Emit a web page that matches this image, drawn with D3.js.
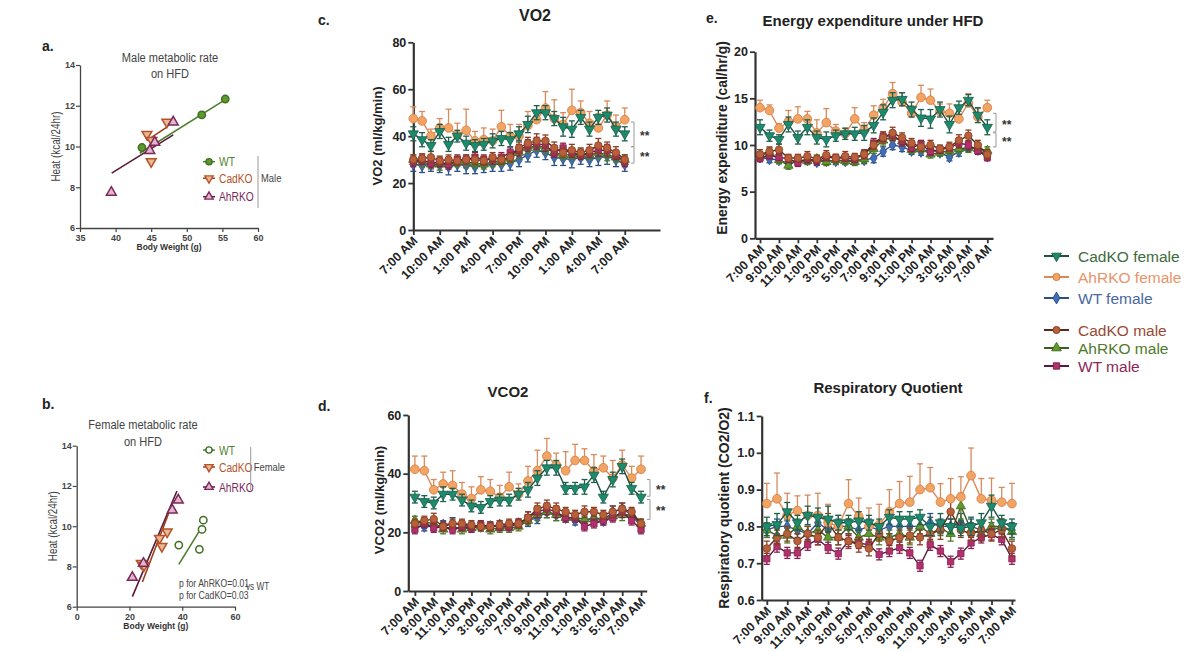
<!DOCTYPE html>
<html>
<head>
<meta charset="utf-8">
<script src="https://cdn.jsdelivr.net/npm/d3@7"></script>
<style>
body{margin:0;background:#fff;}
svg{display:block;font-family:"Liberation Sans",Arial,sans-serif;}
</style>
</head>
<body>
<script>
// ---- scatter data (body weight g, heat kcal/24hr) ----
var maleWT = [[43.7, 9.95], [52.1, 11.55], [55.4, 12.33]];
var maleCad = [[44.4, 10.6], [45.1, 10.3], [45.0, 9.26], [47.2, 11.2]];
var maleAhr = [[39.4, 7.75], [44.8, 9.8], [45.5, 10.2], [48.1, 11.2]];
var maleFitWT = [[43.4, 9.67], [55.4, 12.3]];
var maleFitCad = [[44.4, 10.3], [47.2, 10.95]];
var maleFitAhr = [[39.45, 8.69], [48.1, 10.57]];

var femWT = [[38.7, 9.06], [46.5, 8.85], [47.5, 9.84], [48.0, 10.3]];
var femCad = [[24.5, 8.15], [25.5, 8.05], [31.4, 9.4], [32.3, 9.0], [34.3, 9.72]];
var femAhr = [[21.1, 7.45], [25.3, 8.15], [36.2, 10.8], [38.5, 11.3]];
var femFitWT = [[38.7, 8.1], [46.3, 9.72]];
var femFitCad = [[24.9, 7.23], [35.8, 10.97]];
var femFitAhr = [[21.1, 6.5], [38.0, 11.75]];

// ---- time labels ----
var ticks3h = ["7:00 AM", "10:00 AM", "1:00 PM", "4:00 PM", "7:00 PM", "10:00 PM", "1:00 AM", "4:00 AM", "7:00 AM"];
var ticks2h = ["7:00 AM", "9:00 AM", "11:00 AM", "1:00 PM", "3:00 PM", "5:00 PM", "7:00 PM", "9:00 PM", "11:00 PM", "1:00 AM", "3:00 AM", "5:00 AM", "7:00 AM"];

// ---- VO2 (ml/kg/min), hourly ----
var vo2CadF = [41, 38.5, 36, 42, 36.5, 40, 37, 36, 36.5, 38, 39, 38.5, 41, 45, 50, 50, 47.5, 44, 43, 48, 43, 48, 49, 43, 41];
var vo2AhrF = [47.5, 46.5, 40, 43.5, 43.5, 40.5, 42.5, 38, 38.5, 38, 44, 40, 40, 44.5, 47, 52, 47.5, 45, 51, 50, 45.5, 43.5, 49, 44, 47];
var vo2WtF = [28, 27.5, 28, 27.5, 27, 28, 27.5, 27, 27.5, 28, 28, 28.5, 30, 32, 34, 33, 31, 30.5, 30, 31, 30, 31, 31.5, 30, 28];
var vo2CadM = [30, 30.5, 31, 29.5, 30, 29.5, 30, 30, 29.5, 31, 30, 31, 35, 37, 38, 38, 35, 33, 34, 33, 34, 36, 35, 33, 30];
var vo2AhrM = [30, 29, 28, 28, 28, 29, 29, 28.5, 28, 29, 29.5, 30.5, 33, 35, 36, 35, 33, 32, 32, 32.5, 32, 33, 32, 31, 30];
var vo2WtM = [29, 30, 28.5, 29, 28, 30, 30, 31, 30, 30, 31, 33, 34, 36, 37, 36, 33, 35, 33, 32, 33, 34, 34, 32, 29];
var vo2CadFErr = [3, 3, 2.5, 3, 3, 2.5, 3, 2.5, 2.5, 3, 3, 3, 3, 3.5, 3, 3, 3, 4, 3.5, 3, 3, 3, 3, 3, 3];
var vo2AhrFErr = [5, 4, 3, 4, 8, 5, 9, 4, 5, 5, 7, 5, 5, 6, 4, 7, 8, 5, 9, 5, 5, 6, 6, 5, 5];
var vo2WtFErr = [3, 3, 3, 3, 3.5, 3, 3.5, 3, 3, 3, 3, 3, 3, 3, 3, 3, 3.5, 3, 3.5, 3, 3, 3.5, 3.5, 3, 3];
var vo2CadMErr = [2, 2, 2.5, 2, 2, 2, 2, 2, 2, 2, 2, 2, 2.5, 2.5, 3, 2.5, 2.5, 2, 2.5, 2, 2.5, 3, 2.5, 2.5, 2];
var vo2AhrMErr = [2, 2, 2, 2.5, 2, 2, 2.5, 2, 2, 2, 2, 2, 2.5, 2.5, 2.5, 2.5, 2, 2, 2, 2, 2, 2.5, 2.5, 2, 2];
var vo2WtMErr = [2, 2, 2, 2, 2, 2, 2, 2, 2, 2, 2, 2, 2.5, 2.5, 2.5, 2.5, 2, 2, 2, 2, 2, 2.5, 2.5, 2, 2];

// ---- VCO2 (ml/kg/min), hourly ----
var vco2CadF = [32, 30.5, 30, 33, 33, 31, 29, 28.5, 30.5, 31, 31, 33, 34.5, 38.5, 42, 42, 35, 35, 35.5, 39.5, 32, 38, 42.5, 35, 32];
var vco2AhrF = [41.5, 41, 34.5, 36.5, 36, 33, 31.5, 34.5, 34, 32, 35.5, 33, 37.5, 41, 46, 43, 41, 44.5, 44.5, 41, 42, 38.5, 43, 38.5, 41.5];
var vco2WtF = [22, 22, 22, 22.5, 23, 22.5, 22, 22, 22, 22.5, 22.5, 23, 24, 25, 27, 26, 25, 24, 24, 25, 24, 27, 28, 26, 22];
var vco2CadM = [23, 24, 24.5, 22, 23, 23, 22.5, 22, 22, 22.5, 23, 23, 25, 28, 29, 28, 27, 26, 27, 27, 26, 27, 28, 27, 23];
var vco2AhrM = [24, 23.5, 23, 21, 22, 21, 21.5, 22, 21, 21.5, 21.5, 22, 24, 26, 27, 26, 25, 25, 24.5, 24.5, 25, 25.5, 26, 26, 23];
var vco2WtM = [21, 23, 21.5, 22, 21, 22, 21.5, 22.5, 22, 22, 22, 23, 25, 27, 28, 27, 25, 25, 22, 23, 24, 25, 27, 24, 21];
var vco2CadFErr = [2, 2, 2, 2.5, 2, 2, 2, 2, 2, 2, 2, 2, 2.5, 2.5, 2.5, 2.5, 2, 2, 2.5, 2.5, 2, 2.5, 2.5, 2, 2];
var vco2AhrFErr = [4.5, 5, 3.5, 4, 5, 4, 4, 4.5, 4, 4, 5, 3.5, 5, 7, 6, 4, 6.5, 5.5, 4, 5.5, 4, 6, 5, 4, 4.5];
var vco2WtFErr = [1.5, 1.5, 1.5, 1.5, 2, 1.5, 1.5, 1.5, 1.5, 1.5, 1.5, 1.5, 2, 2, 2, 2, 1.5, 1.5, 1.5, 1.5, 1.5, 2, 2, 1.5, 1.5];
var vco2CadMErr = [1.5, 1.5, 2, 1.5, 1.5, 1.5, 1.5, 1.5, 1.5, 1.5, 1.5, 1.5, 2, 2, 2, 2, 1.5, 1.5, 2, 1.5, 1.5, 2, 2, 1.5, 1.5];
var vco2AhrMErr = [1.5, 1.5, 1.5, 1.5, 1.5, 1.5, 1.5, 1.5, 1.5, 1.5, 1.5, 1.5, 1.5, 2, 2, 2, 1.5, 1.5, 1.5, 1.5, 1.5, 1.5, 2, 2, 1.5];
var vco2WtMErr = [1.5, 1.5, 1.5, 1.5, 1.5, 1.5, 1.5, 1.5, 1.5, 1.5, 1.5, 1.5, 2, 2, 2, 2, 1.5, 1.5, 1.5, 1.5, 1.5, 1.5, 2, 1.5, 1.5];

// ---- Energy expenditure (cal/hr/g), hourly ----
var eeCadF = [11.9, 11, 10.6, 12.2, 10.8, 11.9, 10.8, 10.6, 11, 11.2, 11.2, 11.3, 12.1, 13.5, 14.8, 14.9, 13.8, 12.9, 12.8, 13.8, 12.2, 14, 14.8, 13.2, 11.9];
var eeAhrF = [14, 13.7, 11.8, 12.5, 12.8, 12.8, 11.3, 12.4, 11.5, 11.2, 12.8, 11.6, 13.2, 14, 15.5, 14.6, 13.4, 15.1, 14.8, 13.6, 13.4, 12.8, 14.5, 13, 14];
var eeWtF = [8.7, 8.5, 8.4, 8, 8.3, 8.4, 8.2, 8.3, 8.3, 8.3, 8.4, 8.4, 8.6, 9.3, 10, 9.8, 9.4, 9.3, 9.5, 9.2, 8.7, 9.3, 9.8, 9.5, 8.8];
var eeCadM = [9, 9.3, 9.5, 8.6, 8.6, 8.8, 8.5, 8.9, 8.6, 8.8, 8.7, 9, 10, 10.8, 11.3, 10.8, 10.2, 9.8, 10, 9.6, 9.8, 10.5, 11, 10, 9];
var eeAhrM = [8.8, 9.2, 8.4, 7.8, 8.4, 8.3, 8.5, 8.2, 8.4, 8.3, 8.2, 8.5, 9.6, 10.5, 10.9, 10.4, 9.5, 9.6, 9, 9.2, 9.4, 9.6, 9.7, 9.6, 9.4];
var eeWtM = [8.6, 8.9, 8.7, 8.5, 8.1, 8.5, 8.3, 8.7, 8.6, 8.6, 8.5, 9, 10.2, 10.9, 11, 10.4, 9.7, 10.1, 9.3, 9.5, 9.7, 10.2, 10, 9.4, 8.7];
var eeCadFErr = [0.8, 0.6, 0.5, 0.8, 0.7, 0.8, 0.7, 0.8, 0.6, 0.6, 0.7, 0.8, 0.8, 0.8, 0.8, 0.7, 0.8, 0.9, 1.0, 0.8, 0.9, 0.7, 0.6, 0.8, 0.8];
var eeAhrFErr = [0.8, 0.6, 0.5, 1.2, 1.3, 0.8, 1.4, 1.5, 0.7, 0.6, 1.2, 0.8, 1.0, 0.9, 1.2, 1.0, 0.8, 1.3, 1.2, 0.8, 1.0, 0.8, 1.0, 0.9, 0.8];
var eeWtFErr = [0.4, 0.4, 0.4, 0.4, 0.5, 0.4, 0.4, 0.4, 0.4, 0.4, 0.4, 0.4, 0.5, 0.5, 0.5, 0.5, 0.4, 0.4, 0.5, 0.4, 0.4, 0.5, 0.5, 0.4, 0.4];
var eeCadMErr = [0.5, 0.5, 0.6, 0.4, 0.4, 0.5, 0.4, 0.5, 0.4, 0.5, 0.4, 0.5, 0.5, 0.6, 0.6, 0.5, 0.5, 0.5, 0.5, 0.4, 0.5, 0.6, 0.6, 0.5, 0.5];
var eeAhrMErr = [0.5, 0.5, 0.4, 0.4, 0.4, 0.4, 0.4, 0.4, 0.4, 0.4, 0.4, 0.4, 0.5, 0.5, 0.5, 0.5, 0.4, 0.4, 0.4, 0.4, 0.4, 0.5, 0.5, 0.5, 0.4];
var eeWtMErr = [0.4, 0.4, 0.4, 0.4, 0.4, 0.4, 0.4, 0.4, 0.4, 0.4, 0.4, 0.4, 0.5, 0.5, 0.5, 0.5, 0.4, 0.4, 0.4, 0.4, 0.4, 0.5, 0.5, 0.4, 0.4];

// ---- Respiratory quotient, hourly ----
var rqCadF = [0.8, 0.805, 0.84, 0.81, 0.83, 0.825, 0.82, 0.81, 0.81, 0.815, 0.81, 0.8, 0.825, 0.82, 0.82, 0.825, 0.8, 0.81, 0.8, 0.795, 0.8, 0.81, 0.855, 0.81, 0.8];
var rqAhrF = [0.862, 0.875, 0.83, 0.843, 0.83, 0.83, 0.81, 0.8, 0.862, 0.827, 0.8, 0.805, 0.84, 0.862, 0.866, 0.9, 0.905, 0.866, 0.875, 0.88, 0.938, 0.875, 0.871, 0.866, 0.862];
var rqWtF = [0.79, 0.8, 0.8, 0.79, 0.78, 0.81, 0.79, 0.8, 0.8, 0.79, 0.8, 0.79, 0.8, 0.8, 0.8, 0.8, 0.81, 0.8, 0.8, 0.81, 0.8, 0.79, 0.79, 0.8, 0.79];
var rqCadM = [0.74, 0.77, 0.78, 0.76, 0.78, 0.77, 0.81, 0.77, 0.76, 0.75, 0.74, 0.78, 0.76, 0.77, 0.775, 0.77, 0.78, 0.79, 0.84, 0.79, 0.78, 0.79, 0.78, 0.79, 0.74];
var rqAhrM = [0.79, 0.775, 0.775, 0.8, 0.78, 0.79, 0.77, 0.77, 0.8, 0.77, 0.78, 0.77, 0.77, 0.78, 0.77, 0.8, 0.78, 0.795, 0.78, 0.855, 0.79, 0.78, 0.8, 0.8, 0.785];
var rqWtM = [0.712, 0.745, 0.728, 0.728, 0.75, 0.765, 0.742, 0.726, 0.76, 0.755, 0.75, 0.724, 0.733, 0.742, 0.728, 0.693, 0.75, 0.733, 0.704, 0.726, 0.755, 0.77, 0.778, 0.765, 0.712];
var rqCadFErr = [0.025, 0.03, 0.025, 0.02, 0.025, 0.025, 0.035, 0.02, 0.02, 0.025, 0.02, 0.02, 0.02, 0.02, 0.02, 0.02, 0.025, 0.025, 0.02, 0.02, 0.025, 0.025, 0.03, 0.02, 0.02];
var rqAhrFErr = [0.055, 0.07, 0.06, 0.04, 0.055, 0.06, 0.05, 0.03, 0.065, 0.05, 0.05, 0.055, 0.06, 0.06, 0.07, 0.07, 0.055, 0.05, 0.055, 0.055, 0.075, 0.055, 0.06, 0.04, 0.055];
var rqWtFErr = [0.02, 0.02, 0.02, 0.02, 0.02, 0.02, 0.02, 0.02, 0.02, 0.02, 0.02, 0.02, 0.02, 0.02, 0.02, 0.02, 0.025, 0.02, 0.02, 0.025, 0.02, 0.02, 0.02, 0.02, 0.02];
var rqCadMErr = [0.02, 0.02, 0.02, 0.02, 0.02, 0.02, 0.025, 0.02, 0.02, 0.02, 0.02, 0.02, 0.02, 0.02, 0.02, 0.02, 0.02, 0.025, 0.04, 0.02, 0.02, 0.02, 0.02, 0.02, 0.02];
var rqAhrMErr = [0.02, 0.02, 0.02, 0.02, 0.02, 0.02, 0.02, 0.02, 0.02, 0.02, 0.02, 0.02, 0.02, 0.02, 0.02, 0.02, 0.02, 0.02, 0.02, 0.035, 0.02, 0.02, 0.02, 0.02, 0.02];
var rqWtMErr = [0.015, 0.015, 0.015, 0.015, 0.015, 0.015, 0.015, 0.015, 0.015, 0.015, 0.015, 0.015, 0.015, 0.015, 0.015, 0.015, 0.015, 0.015, 0.015, 0.015, 0.015, 0.015, 0.015, 0.015, 0.015];

// ---- legend labels ----
var legendNames = ["CadKO female", "AhRKO female", "WT female", "CadKO male", "AhRKO male", "WT male"];

var W = 1188, H = 652;
var svg = d3.select("body").append("svg").attr("width", W).attr("height", H);
svg.append("rect").attr("width", W).attr("height", H).attr("fill", "#fff");

// styles for the six groups (draw order: back to front)
var styles = {
	wtF:  {fill: "#3f6fb8", stroke: "#2d4f86", line: "#2d4f86", err: "#2d4f86", shape: "diamond", size: 40, text: "#4a68a0"},
	ahrM: {fill: "#5f9a2e", stroke: "#3f6a1c", line: "#3f5a20", err: "#4f7a25", shape: "triangle", size: 38, text: "#4f7a2a"},
	wtM:  {fill: "#b3306f", stroke: "#8a1f52", line: "#5a1a3a", err: "#8a1f52", shape: "square", size: 40, text: "#8a2858"},
	cadM: {fill: "#b8603c", stroke: "#8a3f22", line: "#5a2a18", err: "#8a3f22", shape: "circle", size: 45, text: "#9a4a35"},
	ahrF: {fill: "#f2a463", stroke: "#d67a45", line: "#d98a5c", err: "#d98a5c", shape: "circle", size: 60, text: "#e8946a"},
	cadF: {fill: "#1e8a6c", stroke: "#17604b", line: "#1f4f40", err: "#1f5f4a", shape: "tridown", size: 45, text: "#3e6b3c"}
};
var drawOrder = ["wtF", "ahrM", "wtM", "cadM", "ahrF", "cadF"];
var legendKeys = ["cadF", "ahrF", "wtF", "cadM", "ahrM", "wtM"];

var symbolTypes = {circle: d3.symbolCircle, square: d3.symbolSquare, diamond: d3.symbolDiamond, triangle: d3.symbolTriangle, tridown: d3.symbolTriangle};
function symbolPath(shape, size) {
	return d3.symbol().type(symbolTypes[shape]).size(size)();
}
function symbolTransform(shape, x, y) {
	return "translate(" + x + "," + y + ")" + (shape == "tridown" ? " rotate(180)" : "");
}
// condensed text (the a/b panels use a narrow face); squeeze horizontally
function narrowText(g, str, x, y, size, color, anchor, rot) {
	return g.append("text").text(str)
		.attr("transform", "translate(" + x + "," + y + ")" + (rot ? " rotate(" + rot + ")" : "") + " scale(0.82,1)")
		.attr("text-anchor", anchor || "start")
		.attr("font-size", size + "px").attr("fill", color);
}

// ---------------- time series panels ----------------
var drawTimePanel = function(p) {
	var g = svg.append("g");
	var x = d3.scaleLinear().domain(p.hDomain).range([p.left, p.right]);
	var y = d3.scaleLinear().domain(p.yDomain).range([p.bottom, p.top]);

	var yAxis = d3.axisLeft(y).tickValues(p.yTicks).tickSize(5).tickSizeOuter(0).tickFormat(p.yFmt);
	var gy = g.append("g").attr("transform", "translate(" + p.left + ",0)").call(yAxis);
	var tickHours = p.xLabels.map(function(d, i){return i * p.step;});
	var xAxis = d3.axisBottom(x).tickValues(tickHours).tickSize(5).tickSizeOuter(0)
		.tickFormat(function(d, i){return p.xLabels[i];});
	var gx = g.append("g").attr("transform", "translate(0," + p.bottom + ")").call(xAxis);
	[gx, gy].forEach(function(a){
		a.select(".domain").attr("stroke", "#333").attr("stroke-width", 2.2);
		a.selectAll(".tick line").attr("stroke", "#333").attr("stroke-width", 1.8);
		a.selectAll("text").attr("font-size", "12.5px").attr("font-weight", "bold").attr("fill", "#222")
			.attr("font-family", "'Liberation Sans', Arial, sans-serif");
	});
	gy.selectAll("text").attr("x", -7);
	gx.selectAll("text")
		.attr("text-anchor", "end")
		.attr("x", -5).attr("y", 7).attr("dy", "0.35em")
		.attr("transform", "rotate(-45)");

	// series
	drawOrder.forEach(function(k){
		var st = styles[k];
		var vals = p.values[k], errs = p.errors[k];
		var bars = g.append("g");
		vals.forEach(function(v, i){
			var up = y(v + errs[i]);
			var dn = (k == "ahrF") ? y(v) : y(v - errs[i]);
			bars.append("line").attr("x1", x(i)).attr("x2", x(i)).attr("y1", up).attr("y2", dn)
				.attr("stroke", st.err).attr("stroke-width", 1.3);
			bars.append("line").attr("x1", x(i) - 3).attr("x2", x(i) + 3).attr("y1", up).attr("y2", up)
				.attr("stroke", st.err).attr("stroke-width", 1.3);
			if (k != "ahrF") {
				bars.append("line").attr("x1", x(i) - 3).attr("x2", x(i) + 3).attr("y1", dn).attr("y2", dn)
					.attr("stroke", st.err).attr("stroke-width", 1.3);
			}
		});
		g.append("path").datum(vals)
			.attr("d", d3.line().x(function(d, i){return x(i);}).y(function(d){return y(d);}))
			.attr("fill", "none").attr("stroke", st.line).attr("stroke-width", 1.4);
		g.selectAll(".m" + k).data(vals).enter().append("path")
			.attr("class", "m" + k)
			.attr("d", symbolPath(st.shape, st.size))
			.attr("transform", function(d, i){return symbolTransform(st.shape, x(i), y(d));})
			.attr("fill", st.fill).attr("stroke", st.stroke).attr("stroke-width", 0.8);
	});

	// significance brackets
	p.brackets.forEach(function(b){
		var y1 = y(b[0]), y2 = y(b[1]);
		g.append("path")
			.attr("d", "M" + (p.bx - 3) + "," + y1 + "H" + p.bx + "V" + y2 + "H" + (p.bx - 3))
			.attr("fill", "none").attr("stroke", "#999").attr("stroke-width", 1);
		g.append("text").text("**")
			.attr("x", p.bx + 6).attr("y", (y1 + y2) / 2 + 6)
			.attr("font-size", "12px").attr("font-weight", "bold").attr("fill", "#333");
	});

	// title, axis label, panel letter
	g.append("text").text(p.title).attr("x", p.titleX).attr("y", p.titleY)
		.attr("text-anchor", "middle").attr("font-size", p.titleSize + "px").attr("font-weight", "bold").attr("fill", "#222");
	g.append("text").text(p.ylabel)
		.attr("transform", "translate(" + p.ylabelX + "," + p.ylabelY + ") rotate(-90)")
		.attr("text-anchor", "middle").attr("font-size", p.ylabelSize + "px").attr("font-weight", "bold").attr("fill", "#222");
	g.append("text").text(p.letter).attr("x", p.letterX).attr("y", p.letterY)
		.attr("font-size", "14px").attr("font-weight", "bold").attr("fill", "#222");
};

drawTimePanel({
	left: 413.3, right: 660, hDomain: [0, 28], top: 42.3, bottom: 230, yDomain: [0, 80],
	yTicks: [0, 20, 40, 60, 80], yFmt: d3.format("d"), xLabels: ticks3h, step: 3,
	values: {cadF: vo2CadF, ahrF: vo2AhrF, wtF: vo2WtF, cadM: vo2CadM, ahrM: vo2AhrM, wtM: vo2WtM},
	errors: {cadF: vo2CadFErr, ahrF: vo2AhrFErr, wtF: vo2WtFErr, cadM: vo2CadMErr, ahrM: vo2AhrMErr, wtM: vo2WtMErr},
	brackets: [[46, 35.5], [35.5, 28.5]], bx: 634,
	title: "VO2", titleX: 535, titleY: 21, titleSize: 16,
	ylabel: "VO2 (ml/kg/min)", ylabelX: 382, ylabelY: 136, ylabelSize: 13,
	letter: "c.", letterX: 318, letterY: 25
});
drawTimePanel({
	left: 408.3, right: 646.7, hDomain: [-0.7, 24.6], top: 415, bottom: 591, yDomain: [0, 60],
	yTicks: [0, 20, 40, 60], yFmt: d3.format("d"), xLabels: ticks2h, step: 2,
	values: {cadF: vco2CadF, ahrF: vco2AhrF, wtF: vco2WtF, cadM: vco2CadM, ahrM: vco2AhrM, wtM: vco2WtM},
	errors: {cadF: vco2CadFErr, ahrF: vco2AhrFErr, wtF: vco2WtFErr, cadM: vco2CadMErr, ahrM: vco2AhrMErr, wtM: vco2WtMErr},
	brackets: [[38, 32.3], [31.2, 24.4]], bx: 650,
	title: "VCO2", titleX: 508, titleY: 397, titleSize: 15,
	ylabel: "VCO2 (ml/kg/min)", ylabelX: 384, ylabelY: 500, ylabelSize: 13,
	letter: "d.", letterX: 318, letterY: 411
});
drawTimePanel({
	left: 755, right: 993, hDomain: [-0.53, 24.6], top: 51.7, bottom: 238.3, yDomain: [0, 20],
	yTicks: [0, 5, 10, 15, 20], yFmt: d3.format("d"), xLabels: ticks2h, step: 2,
	values: {cadF: eeCadF, ahrF: eeAhrF, wtF: eeWtF, cadM: eeCadM, ahrM: eeAhrM, wtM: eeWtM},
	errors: {cadF: eeCadFErr, ahrF: eeAhrFErr, wtF: eeWtFErr, cadM: eeCadMErr, ahrM: eeAhrMErr, wtM: eeWtMErr},
	brackets: [[13.4, 11.4], [11.3, 9.8]], bx: 996,
	title: "Energy expenditure under HFD", titleX: 873, titleY: 26, titleSize: 15,
	ylabel: "Energy expenditure (cal/hr/g)", ylabelX: 727, ylabelY: 138, ylabelSize: 14,
	letter: "e.", letterX: 706, letterY: 23
});
drawTimePanel({
	left: 761.7, right: 1015, hDomain: [-0.5, 24.3], top: 416, bottom: 600, yDomain: [0.6, 1.1],
	yTicks: [0.6, 0.7, 0.8, 0.9, 1.0, 1.1], yFmt: d3.format(".1f"), xLabels: ticks2h, step: 2,
	values: {cadF: rqCadF, ahrF: rqAhrF, wtF: rqWtF, cadM: rqCadM, ahrM: rqAhrM, wtM: rqWtM},
	errors: {cadF: rqCadFErr, ahrF: rqAhrFErr, wtF: rqWtFErr, cadM: rqCadMErr, ahrM: rqAhrMErr, wtM: rqWtMErr},
	brackets: [], bx: 0,
	title: "Respiratory Quotient", titleX: 888, titleY: 393, titleSize: 15,
	ylabel: "Respiratory quotient (CO2/O2)", ylabelX: 729, ylabelY: 508, ylabelSize: 14,
	letter: "f.", letterX: 704, letterY: 403
});

// ---------------- right legend ----------------
var legendY = [256, 277, 298, 330, 348, 366];
var lg = svg.append("g");
lg.selectAll("line").data(legendKeys).enter().append("line")
	.attr("x1", 1044).attr("x2", 1069)
	.attr("y1", function(d, i){return legendY[i];}).attr("y2", function(d, i){return legendY[i];})
	.attr("stroke", function(d){return styles[d].line;}).attr("stroke-width", 2);
lg.selectAll("path").data(legendKeys).enter().append("path")
	.attr("d", function(d){return symbolPath(styles[d].shape, 40);})
	.attr("transform", function(d, i){return symbolTransform(styles[d].shape, 1056.5, legendY[i]);})
	.attr("fill", function(d){return styles[d].fill;}).attr("stroke", function(d){return styles[d].stroke;});
lg.selectAll("text").data(legendKeys).enter().append("text")
	.text(function(d, i){return legendNames[i];})
	.attr("x", 1078).attr("y", function(d, i){return legendY[i] + 6;})
	.attr("font-size", "15.5px").attr("fill", function(d){return styles[d].text;});

// ---------------- scatter panels (a, b) ----------------
var scatterColors = {
	wt: {stroke: "#3f6f22", fill: "#5f9a30", line: "#4f7f2f", text: "#4f7f2f"},
	cad: {stroke: "#b5532a", fill: "#eab894", line: "#9a4020", text: "#b5532a"},
	ahr: {stroke: "#7a2a5a", fill: "#e6b4cc", line: "#5a1a3a", text: "#7a2a5a"}
};
var drawScatter = function(p) {
	var g = svg.append("g");
	var x = d3.scaleLinear().domain(p.xDomain).range([p.left, p.right]);
	var y = d3.scaleLinear().domain([6, 14]).range([p.bottom, p.top]);
	var gx = g.append("g").attr("transform", "translate(0," + p.bottom + ")")
		.call(d3.axisBottom(x).tickValues(p.xTicks).tickSize(4).tickSizeOuter(0));
	var gy = g.append("g").attr("transform", "translate(" + p.left + ",0)")
		.call(d3.axisLeft(y).tickValues([6, 8, 10, 12, 14]).tickSize(4).tickSizeOuter(0));
	[gx, gy].forEach(function(a){
		a.select(".domain").attr("stroke", "#444").attr("stroke-width", 1.3);
		a.selectAll(".tick line").attr("stroke", "#444").attr("stroke-width", 1.2);
		a.selectAll("text").attr("font-size", "9px").attr("fill", "#444").attr("font-weight", "bold")
			.attr("font-family", "'Liberation Sans', Arial, sans-serif");
	});
	gx.selectAll("text").attr("y", 7);
	gy.selectAll("text").attr("x", -5);

	// fit lines
	p.fits.forEach(function(f){
		g.append("line").attr("x1", x(f.pts[0][0])).attr("y1", y(f.pts[0][1]))
			.attr("x2", x(f.pts[1][0])).attr("y2", y(f.pts[1][1]))
			.attr("stroke", scatterColors[f.c].line).attr("stroke-width", 1.6);
	});
	// points
	p.groups.forEach(function(s){
		var c = scatterColors[s.c];
		g.selectAll(".p" + s.c).data(s.pts).enter().append("path")
			.attr("class", "p" + s.c)
			.attr("d", symbolPath(s.shape, 42))
			.attr("transform", function(d){return symbolTransform(s.shape, x(d[0]), y(d[1]));})
			.attr("fill", s.open ? "#fff" : c.fill).attr("stroke", c.stroke).attr("stroke-width", 1.5);
	});
	// legend
	p.groups.forEach(function(s, i){
		var c = scatterColors[s.c];
		var ly = p.legendY[i];
		g.append("line").attr("x1", 203).attr("x2", 215).attr("y1", ly).attr("y2", ly)
			.attr("stroke", c.line).attr("stroke-width", 1.5);
		g.append("path").attr("d", symbolPath(s.shape, 30))
			.attr("transform", symbolTransform(s.shape, 209, ly))
			.attr("fill", s.open ? "#fff" : c.fill).attr("stroke", c.stroke).attr("stroke-width", 1.4);
		narrowText(g, s.name, 219, ly + 4.5, 12.5, c.text);
	});
	g.append("line").attr("x1", p.barX).attr("x2", p.barX).attr("y1", p.barY[0]).attr("y2", p.barY[1])
		.attr("stroke", "#999").attr("stroke-width", 1);
	narrowText(g, p.sex, p.barX + 3, p.sexY, 11.5, "#444");
	// titles
	p.title.forEach(function(t, i){
		narrowText(g, t, p.titleX, p.titleY[i], 13.5, "#444", "middle");
	});
	narrowText(g, "Heat (kcal/24hr)", p.left - 20, (p.top + p.bottom) / 2, 12, "#444", "middle", -90);
	g.append("text").text("Body Weight (g)").attr("x", (p.left + p.right) / 2).attr("y", p.bottom + 22)
		.attr("text-anchor", "middle").attr("font-size", "8.5px").attr("font-weight", "bold").attr("fill", "#333");
	g.append("text").text(p.letter).attr("x", 42).attr("y", p.letterY)
		.attr("font-size", "14px").attr("font-weight", "bold").attr("fill", "#222");
	return g;
};

drawScatter({
	xDomain: [35, 60], xTicks: [35, 40, 45, 50, 55, 60], left: 80, right: 258, top: 65, bottom: 228,
	fits: [{c: "ahr", pts: maleFitAhr}, {c: "cad", pts: maleFitCad}, {c: "wt", pts: maleFitWT}],
	groups: [
		{c: "wt", name: "WT", shape: "circle", pts: maleWT, open: false},
		{c: "cad", name: "CadKO", shape: "tridown", pts: maleCad, open: false},
		{c: "ahr", name: "AhRKO", shape: "triangle", pts: maleAhr, open: false}
	],
	legendY: [161.7, 178.3, 196.7], barX: 258, barY: [156, 208], sex: "Male", sexY: 182,
	title: ["Male metabolic rate", "on HFD"], titleX: 170, titleY: [62, 78],
	letter: "a.", letterY: 51
});
var gb = drawScatter({
	xDomain: [0, 60], xTicks: [0, 20, 40, 60], left: 76.7, right: 235, top: 445.7, bottom: 606.7,
	fits: [{c: "ahr", pts: femFitAhr}, {c: "cad", pts: femFitCad}, {c: "wt", pts: femFitWT}],
	groups: [
		{c: "wt", name: "WT", shape: "circle", pts: femWT, open: true},
		{c: "cad", name: "CadKO", shape: "tridown", pts: femCad, open: false},
		{c: "ahr", name: "AhRKO", shape: "triangle", pts: femAhr, open: false}
	],
	legendY: [450, 467, 487], barX: 250.7, barY: [447, 490], sex: "Female", sexY: 471,
	title: ["Female metabolic rate", "on HFD"], titleX: 143, titleY: [429, 446],
	letter: "b.", letterY: 409
});
narrowText(gb, "p for AhRKO=0.01", 179, 587, 10.5, "#444");
narrowText(gb, "p for CadKO=0.03", 179, 599, 10.5, "#444");
narrowText(gb, "vs WT", 246, 590, 10, "#444");
</script>
</body>
</html>
